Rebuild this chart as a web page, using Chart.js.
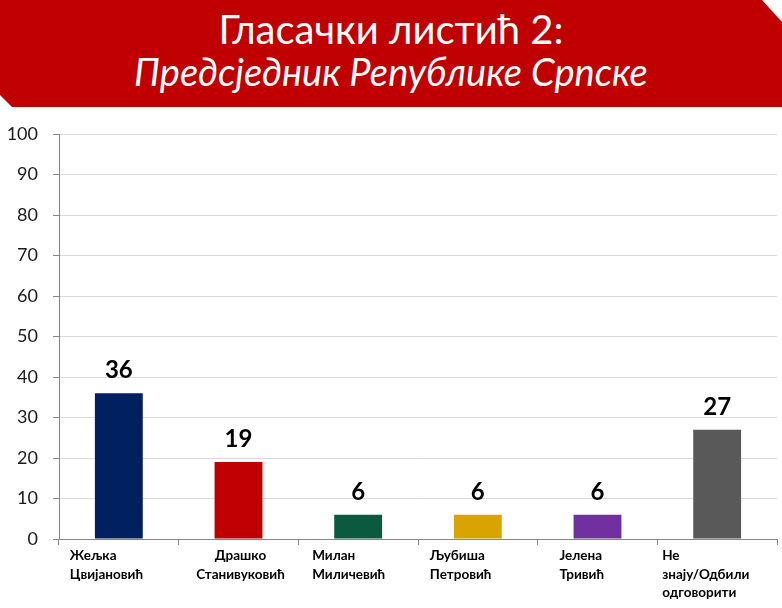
<!DOCTYPE html>
<html><head><meta charset="utf-8">
<script src="https://cdn.jsdelivr.net/npm/chart.js@4/dist/chart.umd.min.js"></script>
<style>
html,body{margin:0;padding:0;background:#fff;}
#wrap{position:relative;width:782px;height:608px;overflow:hidden;}
#c{position:absolute;left:0;top:0;}
#hdr{position:absolute;left:0;top:0;width:782px;height:107px;background:#C00000;
 clip-path:polygon(0 0,762px 0,782px 22px,782px 107px,12px 107px,0 95px);color:#fff;font-family:Lato,sans-serif;}
#hdr .l1{position:absolute;left:0;width:782px;text-align:center;top:9px;font-size:40px;line-height:40px;font-weight:400;}
#hdr .l2{position:absolute;left:0;width:782px;text-align:center;top:52px;font-size:38px;line-height:38px;font-style:italic;font-weight:400;}
</style></head>
<body><div id="wrap"><canvas id="c" width="782" height="608"></canvas>
<div id="hdr"><div class="l1">Гласачки листић 2:</div><div class="l2">Предсједник Републике Српске</div></div></div>
<script>
const categories = [
  ["Жељка","Цвијановић"],
  ["Драшко","Станивуковић"],
  ["Милан","Миличевић"],
  ["Љубиша","Петровић"],
  ["Јелена","Тривић"],
  ["Не","знају/Одбили","одговорити"]
];
const values = [36, 19, 6, 6, 6, 27];
const barColors = ["#002060","#C00000","#0B5A3F","#D9A300","#7030A0","#595959"];
const yTicks = [0,10,20,30,40,50,60,70,80,90,100];

const valuePlugin = {
  id:'vals',
  afterDatasetsDraw(chart){
    const ctx=chart.ctx, meta=chart.getDatasetMeta(0);
    ctx.save();
    ctx.font='bold 24px Lato'; ctx.fillStyle='#000'; ctx.textAlign='center'; ctx.textBaseline='alphabetic';
    meta.data.forEach((b,i)=>ctx.fillText(String(values[i]), b.x, b.y-15));
    ctx.restore();
  }
};
const xLabelPlugin = {
  id:'xlabels',
  afterDraw(chart){
    const ctx=chart.ctx, xs=chart.scales.x;
    const shift=[-49,2,-46,-48,-38,-55];
    ctx.save();
    ctx.font='bold 13.5px Lato'; ctx.fillStyle='#000'; ctx.textBaseline='middle';
    categories.forEach((lines,i)=>{
      const cx=xs.getPixelForValue(i);
      ctx.textAlign = (i===1) ? 'center' : 'left';
      lines.forEach((t,j)=>ctx.fillText(t, cx+shift[i], 556 + j*18.5));
    });
    ctx.restore();
  }
};

new Chart(document.getElementById('c'), {
  type:'bar',
  data:{labels:categories.map(l=>l.join(' ')), datasets:[{data:values, backgroundColor:barColors, borderWidth:0,
    categoryPercentage:1, barPercentage:0.4}]},
  options:{
    responsive:false, animation:false,
    layout:{padding:{top:134,right:5,bottom:0,left:0}},
    plugins:{legend:{display:false}, tooltip:{enabled:false}},
    scales:{
      x:{
        grid:{display:true, drawOnChartArea:false, drawTicks:true, tickLength:6, color:'#868686', offset:true},
        border:{display:true, color:'#868686', width:1},
        ticks:{display:false},
        afterFit(s){ s.height = 69; }
      },
      y:{
        min:0, max:100,
        afterBuildTicks(s){ s.ticks = yTicks.map(v=>({value:v})); },
        grid:{color:'#D9D9D9', tickLength:6, tickColor:'#868686'},
        border:{display:true, color:'#868686', width:1},
        ticks:{font:{family:'Lato', size:18}, color:'#1a1a1a', padding:15},
        afterFit(s){ s.width = 59; }
      }
    }
  },
  plugins:[valuePlugin, xLabelPlugin]
});
</script></body></html>
